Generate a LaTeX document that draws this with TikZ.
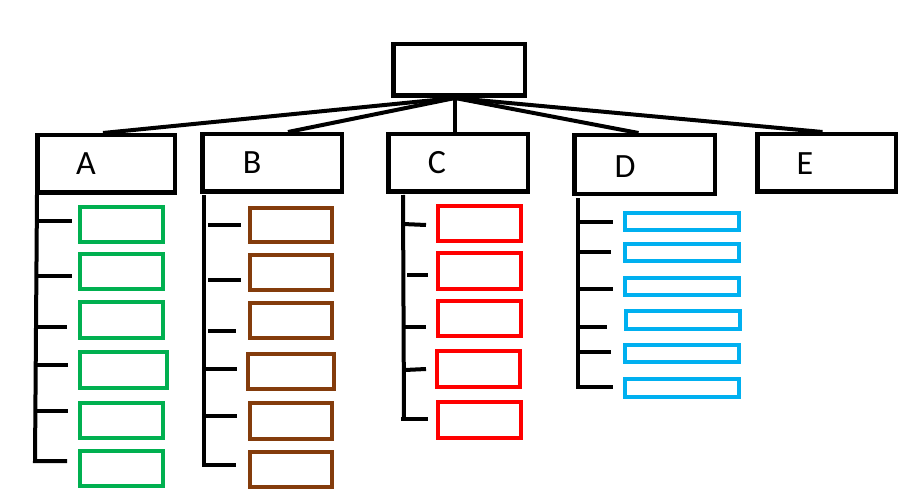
\documentclass[tikz,border=0pt]{standalone}
\usepackage{fontspec}
\setmainfont{Carlito}
\definecolor{cgreen}{HTML}{00B050}
\definecolor{cbrown}{HTML}{843C0C}
\definecolor{cred}{HTML}{FF0000}
\definecolor{cblue}{HTML}{00B0F0}
\newcommand\bx[6]{\node[#2, minimum width=#5pt, minimum height=#6pt] (#1) at (#3,#4) {};}
\tikzset{
  blk/.style={draw=black, line width=4.5pt, inner sep=0pt, fill=white},
  gbox/.style={draw=cgreen, line width=4pt, inner sep=0pt},
  bbox/.style={draw=cbrown, line width=4pt, inner sep=0pt},
  rbox/.style={draw=cred, line width=4pt, inner sep=0pt},
  cbox/.style={draw=cblue, line width=4pt, inner sep=0pt},
  lab/.style={inner sep=0pt, font=\fontsize{34}{34}\selectfont},
  conn/.style={draw=black, line width=4pt},
  tick/.style={draw=black, line width=4pt}
}
\begin{document}
\begin{tikzpicture}[x=1pt, y=-1pt]
\useasboundingbox[fill=white] (0,0) rectangle (916,500);
% boxes
\bx{root}{blk}{459}{70}{131.5}{51.5}
\bx{A}{blk}{106}{164}{137.5}{57.5}
\bx{B}{blk}{272}{163}{139.5}{57.5}
\bx{C}{blk}{458}{163}{139.5}{57.5}
\bx{D}{blk}{644.5}{164.5}{140.5}{58.5}
\bx{E}{blk}{826.5}{163}{138.5}{57.5}
% connectors from root
\coordinate (hub) at ([xshift=-4pt]root.south);
\draw[conn] (hub) -- ([xshift=-3pt]A.north);
\draw[conn] (hub) -- ([xshift=16pt]B.north);
\draw[conn] (hub) -- ([xshift=-3pt]C.north);
\draw[conn] (hub) -- ([xshift=-6pt]D.north);
\draw[conn] (hub) -- ([xshift=-4pt]E.north);
\node[lab] (Al) at (86,164) {A};
\node[lab] (Bl) at (252,163) {B};
\node[lab] (Cl) at (437,163) {C};
\node[lab] (Dl) at (625,167) {D};
\node[lab] (El) at (805,164) {E};
% green
\bx{g1}{gbox}{121.5}{224.5}{83}{35}
\bx{g2}{gbox}{121.5}{271.5}{83}{35}
\bx{g3}{gbox}{121.5}{320}{83}{36}
\bx{g4}{gbox}{123.5}{370}{87}{36}
\bx{g5}{gbox}{121.5}{420.5}{83}{35}
\bx{g6}{gbox}{121.5}{468.5}{83}{35}
% brown
\bx{b1}{bbox}{291}{225}{82}{34}
\bx{b2}{bbox}{291}{272.5}{82}{35}
\bx{b3}{bbox}{291}{320.5}{82}{35}
\bx{b4}{bbox}{291}{371.5}{86}{35}
\bx{b5}{bbox}{291}{421}{82}{36}
\bx{b6}{bbox}{291}{469.5}{82}{35}
% red
\bx{r1}{rbox}{479.5}{223.5}{83}{35}
\bx{r2}{rbox}{479.5}{271}{83}{36}
\bx{r3}{rbox}{479.5}{318.5}{83}{35}
\bx{r4}{rbox}{478.5}{369}{83}{36}
\bx{r5}{rbox}{479.5}{420}{83}{36}
% blue
\bx{c1}{cbox}{682}{221.5}{114}{17}
\bx{c2}{cbox}{682}{252.5}{114}{17}
\bx{c3}{cbox}{682}{286.5}{114}{17}
\bx{c4}{cbox}{683}{320}{114}{18}
\bx{c5}{cbox}{682}{353.5}{114}{17}
\bx{c6}{cbox}{682}{388}{114}{18}
% green brackets
\draw[tick] (37,195) -- (35,461) -- (67,461);
\draw[tick] (37,221) -- (72,221);
\draw[tick] (37,276) -- (72,276);
\draw[tick] (36,327) -- (67,327);
\draw[tick] (36,365) -- (68,365);
\draw[tick] (34,411) -- (68,411);
% brown brackets
\draw[tick] (204,195) -- (204,465) -- (236,465);
\draw[tick] (208,225) -- (241,225);
\draw[tick] (208,280) -- (241,280);
\draw[tick] (208,331) -- (236,331);
\draw[tick] (204,369) -- (237,369);
\draw[tick] (204,416) -- (237,416);
% red brackets
\draw[tick] (403,195) -- (404,419);
\draw[tick] (401,419) -- (428,419);
\draw[tick] (403,224) -- (426,225);
\draw[tick] (407,275) -- (428,275);
\draw[tick] (403,327) -- (426,327);
\draw[tick] (405,370) -- (426,369);
% blue brackets
\draw[tick] (578,198) -- (578,387) -- (613,387);
\draw[tick] (578,222) -- (613,222);
\draw[tick] (578,252) -- (611,252);
\draw[tick] (578,289) -- (613,289);
\draw[tick] (578,327) -- (607,327);
\draw[tick] (578,352) -- (611,352);
\end{tikzpicture}
\end{document}
